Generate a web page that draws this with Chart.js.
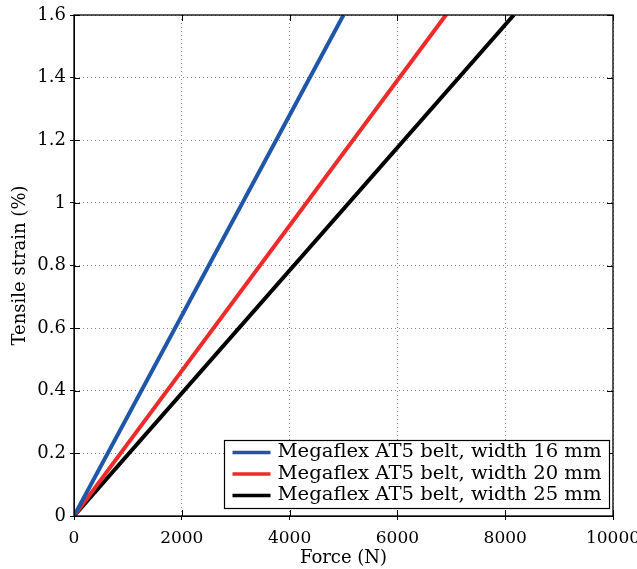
<!DOCTYPE html>
<html><head><meta charset="utf-8">
<script src="https://cdn.jsdelivr.net/npm/chart.js@4"></script>
<style>html,body{margin:0;padding:0;background:#fff}#wrap{width:637px;height:569px}</style>
</head><body><div id="wrap"><canvas id="c" width="637" height="569"></canvas></div>
<script>
const seriesNames = ["Megaflex AT5 belt, width 16 mm","Megaflex AT5 belt, width 20 mm","Megaflex AT5 belt, width 25 mm"];
const forces16 = [0, 5000];
const strain16 = [0, 1.6];
const forces20 = [0, 6900];
const strain20 = [0, 1.6];
const forces25 = [0, 8160];
const strain25 = [0, 1.6];
const xTicks = [0,2000,4000,6000,8000,10000];
const yTicks = [0,0.2,0.4,0.6,0.8,1,1.2,1.4,1.6];
const colors = ["#1f56a8","#ee2b2b","#000000"];
const FONT = "'DejaVu Serif', serif";

function pts(xs, ys){ return xs.map((x,i)=>({x:x,y:ys[i]})); }

const insideTicks = {
  id:'insideTicks',
  afterDraw(chart){
    const ctx=chart.ctx, a=chart.chartArea, xs=chart.scales.x, ys=chart.scales.y;
    ctx.save(); ctx.strokeStyle='#000'; ctx.lineWidth=1;
    const L=6;
    xTicks.forEach(v=>{const p=Math.round(xs.getPixelForValue(v))+0.5;
      ctx.beginPath();ctx.moveTo(p,a.bottom);ctx.lineTo(p,a.bottom-L);ctx.moveTo(p,a.top);ctx.lineTo(p,a.top+L);ctx.stroke();});
    yTicks.forEach(v=>{const p=Math.round(ys.getPixelForValue(v))+0.5;
      ctx.beginPath();ctx.moveTo(a.left,p);ctx.lineTo(a.left+L,p);ctx.moveTo(a.right,p);ctx.lineTo(a.right-L,p);ctx.stroke();});
    ctx.lineWidth=1.3; ctx.strokeRect(a.left,a.top,a.right-a.left,a.bottom-a.top);
    // legend
    const bx=224.5, by=440.5, bw=385, bh=68;
    ctx.fillStyle='#fff'; ctx.fillRect(bx,by,bw,bh);
    ctx.strokeStyle='#000'; ctx.lineWidth=1.2; ctx.strokeRect(bx,by,bw,bh);
    ctx.font="19px "+FONT; ctx.textBaseline='middle'; ctx.textAlign='left';
    chart.data.datasets.forEach((d,i)=>{
      const y=by+12+i*21.5;
      ctx.strokeStyle=d.borderColor; ctx.lineWidth=3.5;
      ctx.beginPath();ctx.moveTo(bx+8,y);ctx.lineTo(bx+46,y);ctx.stroke();
      ctx.fillStyle='#000';
      const w=ctx.measureText(d.label).width, sx=324/w;
      ctx.save(); ctx.translate(bx+53,y); ctx.scale(sx,1); ctx.fillText(d.label,0,0); ctx.restore();
    });
    ctx.restore();
  }
};

new Chart(document.getElementById('c'),{
  type:'line',
  data:{datasets:[
    {label:seriesNames[0],data:pts(forces16,strain16),borderColor:colors[0],borderWidth:4,pointRadius:0,fill:false},
    {label:seriesNames[1],data:pts(forces20,strain20),borderColor:colors[1],borderWidth:4,pointRadius:0,fill:false},
    {label:seriesNames[2],data:pts(forces25,strain25),borderColor:colors[2],borderWidth:4,pointRadius:0,fill:false}
  ]},
  options:{
    responsive:false,animation:false,devicePixelRatio:1,
    layout:{padding:{top:15,right:24,left:0,bottom:0}},
    plugins:{legend:{display:false},tooltip:{enabled:false}},
    scales:{
      x:{type:'linear',min:0,max:10000,
        afterBuildTicks:s=>{s.ticks=xTicks.map(v=>({value:v}));},
        afterFit:s=>{s.height=53;s.paddingRight=0;s.paddingLeft=0;},
        ticks:{callback:v=>String(v),font:{family:FONT,size:17},color:'#000',padding:8,maxRotation:0},
        grid:{color:'#888',lineWidth:1,drawTicks:true,tickLength:4,tickColor:'#000'},
        border:{display:true,color:'#000',dash:[1,3]},
        title:{display:true,text:'Force (N)',font:{family:FONT,size:18},color:'#000',padding:{top:-5,bottom:0}}
      },
      y:{type:'linear',min:0,max:1.6,
        afterBuildTicks:s=>{s.ticks=yTicks.map(v=>({value:v}));},
        afterFit:s=>{s.width=74;s.paddingTop=0;s.paddingBottom=0;},
        ticks:{callback:v=>String(v),font:{family:FONT,size:18},color:'#000',padding:4},
        grid:{color:'#888',lineWidth:1,drawTicks:true,tickLength:4,tickColor:'#000'},
        border:{display:true,color:'#000',dash:[1,3]},
        title:{display:true,text:'Tensile strain (%)',font:{family:FONT,size:18},color:'#000',padding:{top:10,bottom:2}}
      }
    }
  },
  plugins:[insideTicks]
});
</script></body></html>
